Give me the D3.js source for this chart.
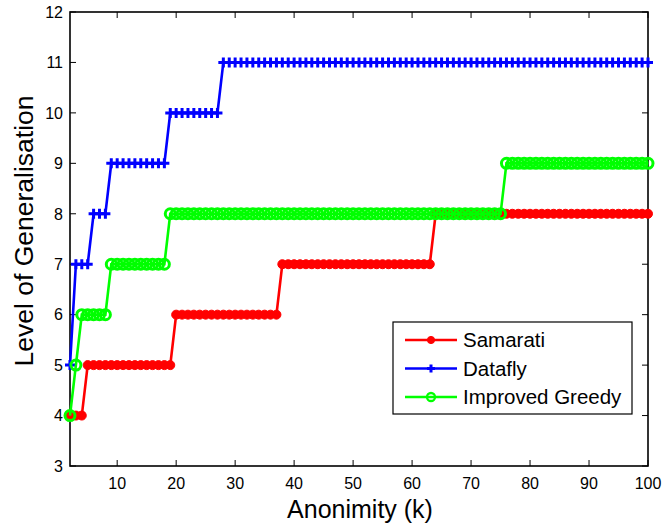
<!DOCTYPE html>
<html><head><meta charset="utf-8">
<script src="https://cdn.jsdelivr.net/npm/d3@7/dist/d3.min.js"></script>
<style>body{margin:0;background:#fff;} svg{display:block;font-family:"Liberation Sans",Arial,sans-serif;}</style>
</head><body>
<script>
// k = 2..100
const kValues = d3.range(2, 101);
const samarati = [
  4,4,4,5,5,5,5,5,
  5,5,5,5,5,5,5,5,5,5,
  6,6,6,6,6,6,6,6,6,6,
  6,6,6,6,6,6,6,6,7,7,
  7,7,7,7,7,7,7,7,7,7,
  7,7,7,7,7,7,7,7,7,7,
  7,7,7,7,8,8,8,8,8,8,
  8,8,8,8,8,8,8,8,8,8,
  8,8,8,8,8,8,8,8,8,8,
  8,8,8,8,8,8,8,8,8,8,
  8
];
const datafly = [
  5,7,7,7,8,8,8,9,
  9,9,9,9,9,9,9,9,9,10,
  10,10,10,10,10,10,10,10,11,11,
  11,11,11,11,11,11,11,11,11,11,
  11,11,11,11,11,11,11,11,11,11,
  11,11,11,11,11,11,11,11,11,11,
  11,11,11,11,11,11,11,11,11,11,
  11,11,11,11,11,11,11,11,11,11,
  11,11,11,11,11,11,11,11,11,11,
  11,11,11,11,11,11,11,11,11,11,
  11
];
const greedy = [
  4,5,6,6,6,6,6,7,
  7,7,7,7,7,7,7,7,7,8,
  8,8,8,8,8,8,8,8,8,8,
  8,8,8,8,8,8,8,8,8,8,
  8,8,8,8,8,8,8,8,8,8,
  8,8,8,8,8,8,8,8,8,8,
  8,8,8,8,8,8,8,8,8,8,
  8,8,8,8,8,8,9,9,9,9,
  9,9,9,9,9,9,9,9,9,9,
  9,9,9,9,9,9,9,9,9,9,
  9
];
const seriesNames = ["Samarati", "Datafly", "Improved Greedy"];
const xTicks = [10,20,30,40,50,60,70,80,90,100];
const yTicks = [3,4,5,6,7,8,9,10,11,12];

const W = 662, H = 524;
const m = {left:70, top:12, right:14, bottom:58};
const pw = W - m.left - m.right, ph = H - m.top - m.bottom;

const svg = d3.select("body").append("svg").attr("width", W).attr("height", H);
const g = svg.append("g").attr("transform", `translate(${m.left},${m.top})`);

const x = d3.scaleLinear().domain([2,100]).range([0,pw]);
const y = d3.scaleLinear().domain([3,12]).range([ph,0]);

// frame
g.append("rect").attr("width", pw).attr("height", ph).attr("fill","none").attr("stroke","#000").attr("stroke-width",1.6);

// ticks (inward, mirrored)
const tl = 6;
xTicks.forEach(t => {
  g.append("line").attr("x1",x(t)).attr("x2",x(t)).attr("y1",ph).attr("y2",ph-tl).attr("stroke","#000");
  g.append("line").attr("x1",x(t)).attr("x2",x(t)).attr("y1",0).attr("y2",tl).attr("stroke","#000");
  g.append("text").attr("x",x(t)).attr("y",ph+23).attr("text-anchor","middle").attr("font-size",16).text(t);
});
yTicks.forEach(t => {
  g.append("line").attr("x1",0).attr("x2",tl).attr("y1",y(t)).attr("y2",y(t)).attr("stroke","#000");
  g.append("line").attr("x1",pw).attr("x2",pw-tl).attr("y1",y(t)).attr("y2",y(t)).attr("stroke","#000");
  g.append("text").attr("x",-7).attr("y",y(t)).attr("dy","0.36em").attr("text-anchor","end").attr("font-size",16).text(t);
});

// axis titles
svg.append("text").attr("x", 360).attr("y", 518).attr("text-anchor","middle").attr("font-size",25).text("Anonimity (k)");
svg.append("text").attr("transform", `translate(33,231) rotate(-90)`).attr("text-anchor","middle").attr("font-size",26.5).text("Level of Generalisation");

const line = d3.line().x(d=>x(d[0])).y(d=>y(d[1]));
const colors = ["#ff0000","#0000ff","#00ff00"];
const all = [samarati, datafly, greedy];

function marker(sel, idx, cx, cy, s) {
  if (idx === 0) {
    sel.append("circle").attr("cx",cx).attr("cy",cy).attr("r",4.5*s).attr("fill",colors[0]).attr("stroke",colors[0]).attr("stroke-width",1);
  } else if (idx === 1) {
    const a = 5*s;
    sel.append("path").attr("d",`M${cx-a},${cy}H${cx+a}M${cx},${cy-a}V${cy+a}`).attr("stroke",colors[1]).attr("stroke-width",3).attr("fill","none");
  } else {
    sel.append("circle").attr("cx",cx).attr("cy",cy).attr("r",5*s).attr("fill","none").attr("stroke",colors[2]).attr("stroke-width",s < 1 ? 2.3 : 3);
  }
}

all.forEach((vals, i) => {
  const pts = kValues.map((k, j) => [k, vals[j]]);
  const sg = g.append("g");
  sg.append("path").attr("d", line(pts)).attr("fill","none").attr("stroke",colors[i]).attr("stroke-width",2.6);
  pts.forEach(p => marker(sg, i, x(p[0]), y(p[1]), 1));
});

// legend
const lg = svg.append("g").attr("transform","translate(393,322)");
lg.append("rect").attr("width",239).attr("height",92).attr("fill","#fff").attr("stroke","#000").attr("stroke-width",1.2);
seriesNames.forEach((n, i) => {
  const ly = 18 + i*28.5;
  lg.append("line").attr("x1",12).attr("x2",64).attr("y1",ly).attr("y2",ly).attr("stroke",colors[i]).attr("stroke-width",2.6);
  marker(lg, i, 38, ly, 0.8);
  lg.append("text").attr("x",70).attr("y",ly).attr("dy","0.36em").attr("font-size",20.5).text(n);
});
</script>
</body></html>
